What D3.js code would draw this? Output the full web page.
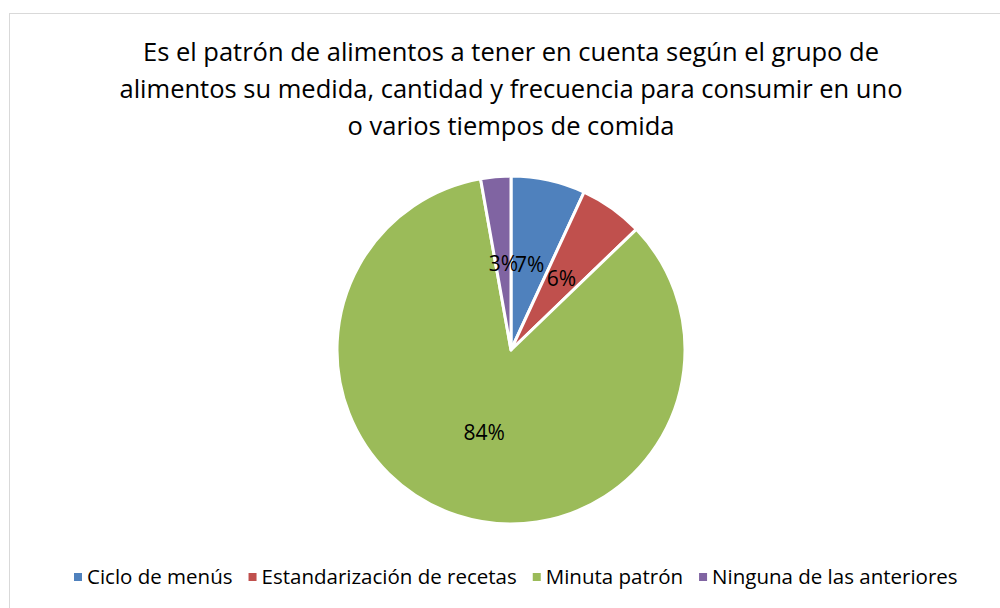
<html>
<head>
<meta charset="utf-8">
<script src="https://d3js.org/d3.v7.min.js"></script>
<style>
    body { margin: 0; background: white; }
    text { font-family: "Open Sans", "Noto Sans", sans-serif; fill: #000; }
</style>
</head>
<body>
<svg width="1000" height="608"></svg>
<script>
// data
var categories = ["Ciclo de menús", "Estandarización de recetas", "Minuta patrón", "Ninguna de las anteriores"];
var values = [6.9, 5.9, 84.4, 2.8];
var colors = ["#4F81BD", "#C0504D", "#9BBB59", "#8064A2"];
var titleLines = [
    "Es el patrón de alimentos a tener en cuenta según el grupo de",
    "alimentos su medida, cantidad y frecuencia para consumir en uno",
    "o varios tiempos de comida"
];

var svg = d3.select("svg");

// chart frame
svg.append("rect")
    .attr("x", 9.5).attr("y", 13.5)
    .attr("width", 1000).attr("height", 600)
    .attr("fill", "white")
    .attr("stroke", "#d9d9d9")
    .attr("stroke-width", 1);

// title
svg.append("g").selectAll("text")
    .data(titleLines)
    .enter().append("text")
    .attr("x", 511)
    .attr("y", function(d, i) { return 61 + i * 37; })
    .attr("text-anchor", "middle")
    .style("font-size", "25.5px")
    .text(function(d) { return d; });

// pie
var cx = 511, cy = 350, radius = 174;
var total = d3.sum(values);
var pie = d3.pie().sort(null).value(function(d) { return d; });
var arc = d3.arc().innerRadius(0).outerRadius(radius);
var labelArc = d3.arc().innerRadius(radius * 0.5).outerRadius(radius * 0.5);

var g = svg.append("g").attr("transform", "translate(" + cx + "," + cy + ")");

g.selectAll("path")
    .data(pie(values))
    .enter().append("path")
    .attr("d", arc)
    .attr("fill", function(d, i) { return colors[i]; })
    .attr("stroke", "white")
    .attr("stroke-width", 3)
    .attr("stroke-linejoin", "round");

g.selectAll(".lbl")
    .data(pie(values))
    .enter().append("text")
    .attr("class", "lbl")
    .attr("transform", function(d) { return "translate(" + labelArc.centroid(d) + ")"; })
    .attr("text-anchor", "middle")
    .attr("dy", "0.35em")
    .style("font-size", "21px")
    .text(function(d) { return Math.round(d.value / total * 100) + "%"; });

// legend
var legend = svg.append("g").attr("transform", "translate(0,577)");
var lx = 74;
categories.forEach(function(c, i) {
    legend.append("rect")
        .attr("x", lx).attr("y", -4)
        .attr("width", 8).attr("height", 8)
        .attr("fill", colors[i]);
    var t = legend.append("text")
        .attr("x", lx + 13)
        .attr("dy", "0.35em")
        .style("font-size", "20.5px")
        .text(c);
    lx += 13 + t.node().getComputedTextLength() + 16;
});
</script>
</body>
</html>
